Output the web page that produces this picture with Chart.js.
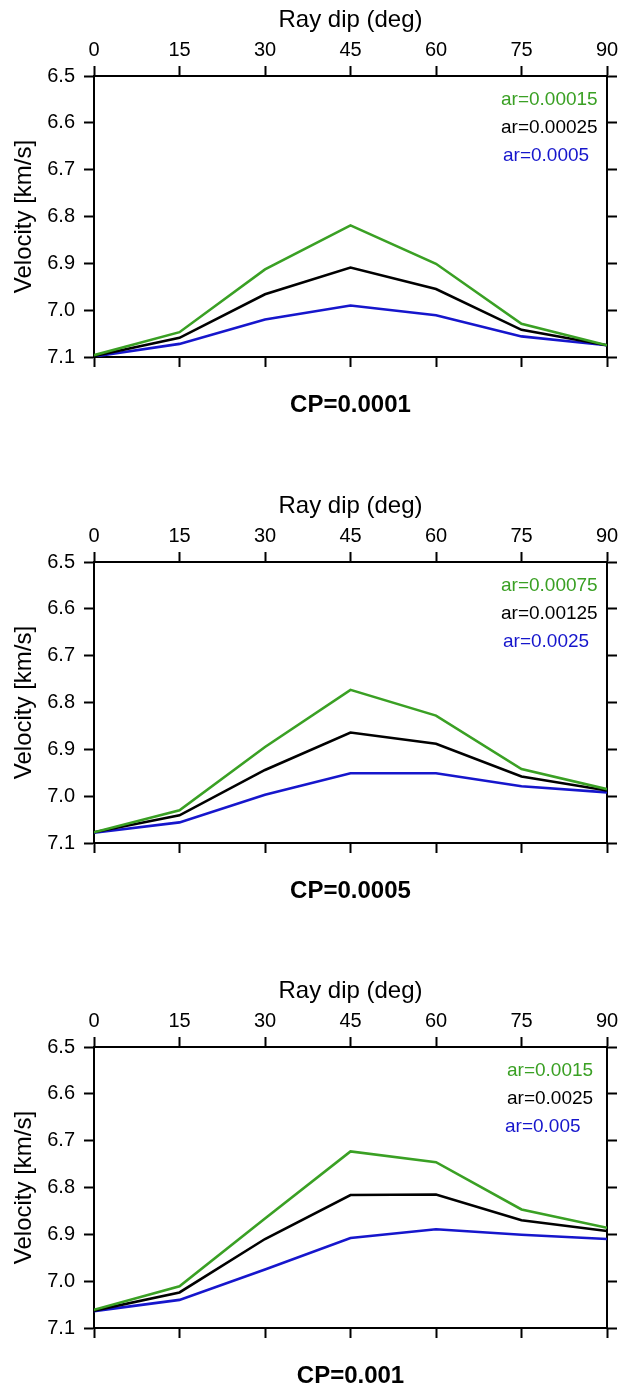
<!DOCTYPE html>
<html>
<head>
<meta charset="utf-8">
<script src="https://cdn.jsdelivr.net/npm/chart.js@4/dist/chart.umd.min.js"></script>
<style>
  html, body { margin: 0; padding: 0; background: #fff; }
  body { width: 619px; height: 1391px; position: relative; overflow: hidden; }
  canvas { position: absolute; left: 0; }
</style>
</head>
<body>
<canvas id="c1" width="619" height="485" style="top:0px"></canvas>
<canvas id="c2" width="619" height="485" style="top:486px"></canvas>
<canvas id="c3" width="619" height="485" style="top:971px"></canvas>
<script>
// ---- data ----
const dipAngles = [0, 15, 30, 45, 60, 75, 90];
const xTickValues = [0, 15, 30, 45, 60, 75, 90];
const yTickValues = [6.5, 6.6, 6.7, 6.8, 6.9, 7.0, 7.1];

const panelTitles = ["CP=0.0001", "CP=0.0005", "CP=0.001"];

const cp1Labels = ["ar=0.00015", "ar=0.00025", "ar=0.0005"];
const cp1Green = [7.096, 7.047, 6.913, 6.819, 6.901, 7.029, 7.075];
const cp1Black = [7.098, 7.059, 6.966, 6.909, 6.955, 7.042, 7.075];
const cp1Blue  = [7.099, 7.072, 7.020, 6.990, 7.011, 7.056, 7.075];

const cp2Labels = ["ar=0.00075", "ar=0.00125", "ar=0.0025"];
const cp2Green = [7.077, 7.030, 6.895, 6.773, 6.828, 6.942, 6.985];
const cp2Black = [7.077, 7.041, 6.944, 6.864, 6.888, 6.958, 6.988];
const cp2Blue  = [7.078, 7.056, 6.997, 6.951, 6.951, 6.979, 6.992];

const cp3Labels = ["ar=0.0015", "ar=0.0025", "ar=0.005"];
const cp3Green = [7.061, 7.011, 6.866, 6.723, 6.746, 6.847, 6.886];
const cp3Black = [7.063, 7.024, 6.910, 6.816, 6.815, 6.870, 6.893];
const cp3Blue  = [7.064, 7.040, 6.975, 6.908, 6.889, 6.901, 6.910];

// ---- styles ----
const FONT = "'Liberation Sans', Arial, Helvetica, sans-serif";
const GREEN = '#3aa024';
const BLACK = '#000000';
const BLUE = '#1616cc';
const seriesColors = [GREEN, BLACK, BLUE];

function pts(arr) { return dipAngles.map((x, i) => ({ x: x, y: arr[i] })); }

const inlineLegend = {
  id: 'inlineLegend',
  afterDatasetsDraw(chart, args, opts) {
    const ctx = chart.ctx;
    const area = chart.chartArea;
    ctx.save();
    ctx.font = '19px ' + FONT;
    ctx.textAlign = 'left';
    ctx.textBaseline = 'middle';
    chart.data.datasets.forEach((ds, i) => {
      ctx.fillStyle = ds.borderColor;
      const dx = opts.offsets[i];
      ctx.fillText(ds.label, area.right - dx, area.top + 24 + i * 28);
    });
    ctx.restore();
  }
};

function fixH(val) {
  return function (scale) { scale.height = val; scale.paddingLeft = 0; scale.paddingRight = 0; };
}
function fixW(val) {
  return function (scale) { scale.width = val; scale.paddingTop = 0; scale.paddingBottom = 0; };
}

function makeChart(id, labels, series, title, legendOpts) {
  const datasets = series.map((s, i) => ({
    label: labels[i],
    data: pts(s),
    borderColor: seriesColors[i],
    backgroundColor: seriesColors[i],
    borderWidth: 2.6,
    pointRadius: 0,
    tension: 0,
    fill: false,
    xAxisID: 'x',
    yAxisID: 'y'
  }));
  const gridCommon = {
    drawOnChartArea: false,
    drawTicks: true,
    tickLength: 10,
    tickWidth: 2,
    tickColor: '#000'
  };
  const borderCommon = { display: true, color: '#000', width: 2 };
  const setX = (scale) => { scale.ticks = xTickValues.map(v => ({ value: v })); };
  const setY = (scale) => { scale.ticks = yTickValues.map(v => ({ value: v })); };

  return new Chart(document.getElementById(id), {
    type: 'line',
    data: { datasets: datasets },
    options: {
      responsive: false,
      animation: false,
      devicePixelRatio: 1,
      layout: { padding: 0 },
      plugins: {
        legend: { display: false },
        tooltip: { enabled: false },
        title: { display: false },
        inlineLegend: legendOpts
      },
      scales: {
        x: {
          type: 'linear', position: 'top', min: 0, max: 90,
          afterBuildTicks: setX,
          afterFit: fixH(76),
          grid: gridCommon, border: borderCommon,
          ticks: { color: '#000', padding: 4, maxRotation: 0, font: { family: FONT, size: 20 },
                   callback: v => String(v) },
          title: { display: true, text: 'Ray dip (deg)', color: '#000',
                   font: { family: FONT, size: 24 }, padding: { top: 6, bottom: 0 } }
        },
        x2: {
          type: 'linear', position: 'bottom', min: 0, max: 90,
          afterBuildTicks: setX,
          afterFit: fixH(128),
          grid: gridCommon, border: borderCommon,
          ticks: { display: false },
          title: { display: true, text: title, color: '#000',
                   font: { family: FONT, size: 24, weight: 'bold' }, padding: { top: 0, bottom: 65 } }
        },
        y: {
          type: 'linear', position: 'left', min: 6.5, max: 7.1, reverse: true,
          afterBuildTicks: setY,
          afterFit: fixW(94),
          grid: gridCommon, border: borderCommon,
          ticks: { color: '#000', padding: 9, font: { family: FONT, size: 20 },
                   callback: v => Number(v).toFixed(1) },
          title: { display: true, text: 'Velocity [km/s]', color: '#000',
                   font: { family: FONT, size: 24 }, padding: { top: 10, bottom: 0 } }
        },
        y2: {
          type: 'linear', position: 'right', min: 6.5, max: 7.1, reverse: true,
          afterBuildTicks: setY,
          afterFit: fixW(12),
          grid: gridCommon, border: borderCommon,
          ticks: { display: false }
        }
      }
    },
    plugins: [inlineLegend]
  });
}

makeChart('c1', cp1Labels, [cp1Green, cp1Black, cp1Blue], panelTitles[0], { offsets: [106, 106, 104] });
makeChart('c2', cp2Labels, [cp2Green, cp2Black, cp2Blue], panelTitles[1], { offsets: [106, 106, 104] });
makeChart('c3', cp3Labels, [cp3Green, cp3Black, cp3Blue], panelTitles[2], { offsets: [100, 100, 102] });
</script>
</body>
</html>
